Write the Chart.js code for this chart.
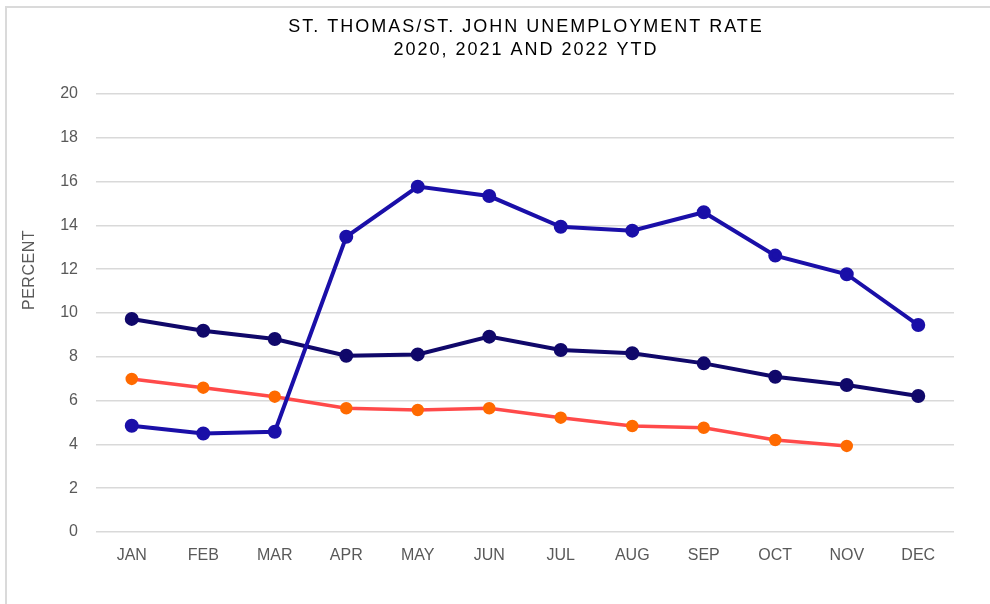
<!DOCTYPE html>
<html>
<head>
<meta charset="utf-8">
<script src="https://cdn.jsdelivr.net/npm/chart.js@4/dist/chart.umd.min.js"></script>
<style>
html,body{margin:0;padding:0;background:#fff;}
#wrap{position:relative;width:990px;height:604px;}
</style>
</head>
<body>
<div id="wrap"><canvas id="c" width="990" height="604"></canvas></div>
<script>
const months = ['JAN','FEB','MAR','APR','MAY','JUN','JUL','AUG','SEP','OCT','NOV','DEC'];
const rate2020 = [4.85, 4.5, 4.58, 13.48, 15.77, 15.34, 13.94, 13.76, 14.6, 12.62, 11.77, 9.45];
const rate2021 = [9.73, 9.19, 8.81, 8.05, 8.11, 8.92, 8.31, 8.16, 7.7, 7.09, 6.71, 6.21];
const rate2022 = [6.99, 6.59, 6.18, 5.65, 5.57, 5.65, 5.22, 4.84, 4.76, 4.2, 3.93, null];
const titleLines = ['ST. THOMAS/ST. JOHN UNEMPLOYMENT RATE', '2020, 2021 AND 2022 YTD'];
const yTitle = 'PERCENT';

const deco = {
  id: 'deco',
  beforeDraw(chart) {
    const ctx = chart.ctx;
    ctx.save();
    ctx.fillStyle = '#fff';
    ctx.fillRect(0, 0, chart.width, chart.height);
    ctx.fillStyle = '#dadada';
    ctx.fillRect(5, 6, chart.width - 5, 2);
    ctx.fillRect(5, 6, 2, chart.height - 6);
    ctx.restore();
  },
  afterDraw(chart) {
    const ctx = chart.ctx;
    const a = chart.chartArea;
    ctx.save();
    ctx.fillStyle = '#000';
    ctx.font = '18px "Liberation Sans", Arial, sans-serif';
    ctx.textAlign = 'center';
    ctx.textBaseline = 'middle';
    if ('letterSpacing' in ctx) ctx.letterSpacing = '2px';
    const cx = (a.left + a.right) / 2 + 1;
    ctx.fillText(titleLines[0], cx, 27);
    ctx.fillText(titleLines[1], cx, 50);
    ctx.fillStyle = '#595959';
    ctx.font = '16px "Liberation Sans", Arial, sans-serif';
    if ('letterSpacing' in ctx) ctx.letterSpacing = '0.5px';
    ctx.translate(30, 270);
    ctx.rotate(-Math.PI / 2);
    ctx.fillText(yTitle, 0, 0);
    ctx.restore();
  }
};

new Chart(document.getElementById('c'), {
  type: 'line',
  data: {
    labels: months,
    datasets: [
      {
        label: '2020',
        data: rate2020,
        borderColor: '#1a0fa8',
        backgroundColor: '#1a0fa8',
        pointBackgroundColor: '#1a0fa8',
        pointBorderColor: '#1a0fa8',
        borderWidth: 4,
        pointRadius: 5,
        tension: 0
      },
      {
        label: '2021',
        data: rate2021,
        borderColor: '#10086a',
        backgroundColor: '#10086a',
        pointBackgroundColor: '#10086a',
        pointBorderColor: '#10086a',
        borderWidth: 4,
        pointRadius: 5,
        tension: 0
      },
      {
        label: '2022',
        data: rate2022,
        borderColor: '#ff4a4a',
        backgroundColor: '#ff6a00',
        pointBackgroundColor: '#ff6a00',
        pointBorderColor: '#ff6a00',
        borderWidth: 3.5,
        pointRadius: 4.5,
        tension: 0
      }
    ]
  },
  options: {
    responsive: false,
    animation: false,
    layout: { padding: { left: 0, right: 36, top: 94, bottom: 0 } },
    plugins: {
      legend: { display: false },
      title: { display: false },
      tooltip: { enabled: false }
    },
    scales: {
      x: {
        offset: true,
        grid: { display: false, drawTicks: false },
        border: { display: false },
        ticks: {
          padding: 14,
          color: '#595959',
          font: { family: '"Liberation Sans", Arial, sans-serif', size: 16 },
          maxRotation: 0,
          autoSkip: false
        },
        afterFit(scale) { scale.height = 72; }
      },
      y: {
        min: 0,
        max: 20,
        grid: { color: '#d9d9d9', lineWidth: 1.5, drawTicks: false },
        border: { display: false },
        ticks: {
          stepSize: 2,
          padding: 18,
          color: '#595959',
          font: { family: '"Liberation Sans", Arial, sans-serif', size: 16 }
        },
        afterFit(scale) { scale.width = 96; }
      }
    }
  },
  plugins: [deco]
});
</script>
</body>
</html>
